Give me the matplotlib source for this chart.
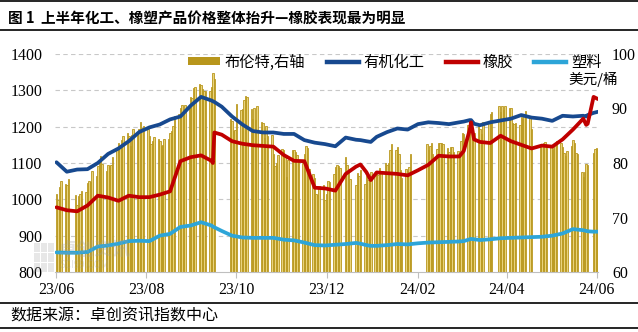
import matplotlib
matplotlib.use("Agg")
import matplotlib.pyplot as plt
from matplotlib.patches import Rectangle
from matplotlib.lines import Line2D
import numpy as np
import pandas as pd

plt.rcParams['font.family'] = ['Noto Sans CJK SC', 'DejaVu Sans']

# Days without a Brent quote in the series (China market holidays, ICE closures)
HOLIDAYS = ["2023-06-22", "2023-06-23", "2023-09-29", "2023-10-02", "2023-10-03",
            "2023-10-04", "2023-10-05", "2023-10-06", "2023-12-25", "2024-01-01",
            "2024-02-09", "2024-02-12", "2024-02-13", "2024-02-14", "2024-02-15",
            "2024-02-16", "2024-03-29", "2024-04-04", "2024-04-05", "2024-05-01",
            "2024-05-02", "2024-05-03", "2024-06-10"]

# Brent, USD/bbl (right axis), one value per trading day
brent_jun23 = [74.29, 73.20, 75.67, 76.61, 76.09, 75.90, 77.12, 74.18, 72.26, 74.03, 74.34, 74.90]
brent_jul23 = [74.65, 76.25, 76.65, 76.52, 78.47, 77.69, 79.40, 80.11, 81.36, 79.87, 78.50,
               79.63, 79.46, 79.64, 81.07, 82.74, 83.64, 82.92, 84.24, 84.99, 85.56]
brent_aug23 = [84.91, 83.20, 85.14, 86.24, 85.34, 86.17, 87.55, 86.40, 86.81, 86.21, 84.89, 83.45,
               84.12, 84.80, 84.46, 84.03, 83.21, 83.36, 84.48, 84.42, 85.49, 85.86, 86.83]
brent_sep23 = [88.55, 89.00, 90.04, 90.60, 89.92, 90.65, 90.64, 92.06, 91.88, 93.70,
               93.93, 94.43, 94.34, 93.53, 93.30, 93.27, 93.29, 93.96, 96.55, 95.38]
brent_oct23 = [88.15, 87.65, 85.82, 86.00, 90.89, 89.65, 89.90, 91.50, 92.38, 92.16,
               89.83, 88.07, 90.13, 87.93, 90.48, 87.45, 87.41]
brent_nov23 = [84.63, 86.85, 84.89, 85.18, 81.61, 79.54, 80.01, 81.43, 82.52, 82.47, 81.18,
               77.42, 80.61, 82.32, 82.45, 81.96, 81.42, 80.58, 79.98, 81.68, 83.10, 82.83]
brent_dec23 = [78.88, 78.03, 77.20, 74.30, 74.05, 75.84, 76.03, 73.24, 74.26, 76.61,
               76.55, 77.95, 79.23, 79.70, 79.39, 79.07, 81.07, 79.65, 78.39, 77.04]
brent_jan24 = [75.89, 78.25, 77.59, 78.76, 76.12, 77.59, 76.80, 77.41, 78.29, 78.15, 78.29,
               77.88, 79.10, 78.56, 80.06, 79.55, 80.04, 82.43, 83.55, 82.40, 82.87, 81.71]
brent_feb24 = [78.70, 77.33, 78.99, 78.59, 79.21, 81.63, 83.56, 82.34, 83.03, 83.67,
               81.62, 82.53, 83.65, 83.68, 83.62]
brent_mar24 = [83.55, 82.80, 82.04, 82.96, 83.00, 82.08, 82.21, 81.92, 84.03, 85.42,
               85.34, 86.89, 87.38, 85.95, 85.78, 85.43, 86.75, 86.25, 85.41, 87.48]
brent_apr24 = [87.42, 88.92, 89.35, 90.38, 89.42, 90.48, 89.74, 90.45, 90.10, 90.02,
               87.29, 87.11, 87.29, 87.00, 88.42, 88.02, 89.01, 89.50, 88.40, 86.33]
brent_may24 = [83.33, 83.16, 83.58, 83.88, 82.79, 83.36, 82.38, 82.75, 83.27, 83.98,
               83.71, 82.88, 81.90, 81.36, 82.12, 83.10, 84.22, 83.60, 81.86, 81.62]
brent_jun24 = [78.36, 77.52, 78.41, 79.87, 79.62, 81.92, 82.60, 82.75, 82.62]

brent = (brent_jun23 + brent_jul23 + brent_aug23 + brent_sep23 + brent_oct23 + brent_nov23
         + brent_dec23 + brent_jan24 + brent_feb24 + brent_mar24 + brent_apr24 + brent_may24
         + brent_jun24)

# Price indices (left axis)
line_dates = ["2023-06-13", "2023-06-20", "2023-06-27", "2023-07-04", "2023-07-11", "2023-07-18",
              "2023-07-25", "2023-08-01", "2023-08-08", "2023-08-15", "2023-08-22", "2023-08-29",
              "2023-09-05", "2023-09-12", "2023-09-19", "2023-09-26", "2023-09-27", "2023-09-28",
              "2023-10-03", "2023-10-10", "2023-10-17", "2023-10-24", "2023-10-31", "2023-11-07",
              "2023-11-14", "2023-11-21", "2023-11-28", "2023-12-05", "2023-12-12", "2023-12-19",
              "2023-12-26", "2024-01-02", "2024-01-05", "2024-01-09", "2024-01-12", "2024-01-16",
              "2024-01-23", "2024-01-30", "2024-02-06", "2024-02-13", "2024-02-20", "2024-02-27",
              "2024-03-05", "2024-03-12", "2024-03-15", "2024-03-19", "2024-03-20", "2024-03-22",
              "2024-03-26", "2024-04-02", "2024-04-09", "2024-04-16", "2024-04-23", "2024-04-30",
              "2024-05-07", "2024-05-14", "2024-05-21", "2024-05-28", "2024-06-04", "2024-06-06",
              "2024-06-07", "2024-06-11", "2024-06-14"]
organic = [1102, 1076, 1082, 1083, 1100, 1125, 1140, 1160, 1185, 1198, 1206, 1220,
           1228, 1258, 1282, 1272, 1270, 1268, 1255, 1228, 1206, 1188, 1184, 1184,
           1180, 1180, 1163, 1156, 1152, 1146, 1170, 1164, 1163, 1160, 1158, 1172,
           1185, 1195, 1192, 1207, 1212, 1210, 1207, 1212, 1214, 1218, 1218, 1208,
           1204, 1212, 1217, 1222, 1232, 1225, 1222, 1216, 1230, 1228, 1230, 1228,
           1232, 1238, 1241]
rubber = [978, 970, 967, 983, 1010, 1005, 996, 1010, 1006, 1006, 1013, 1022,
          1105, 1116, 1121, 1106, 1100, 1184, 1178, 1160, 1153, 1149, 1147, 1145,
          1122, 1106, 1105, 1032, 1030, 1024, 1070, 1090, 1096, 1075, 1053, 1074,
          1072, 1070, 1066, 1080, 1095, 1120, 1118, 1118, 1133, 1190, 1212, 1165,
          1158, 1155, 1175, 1160, 1150, 1140, 1148, 1145, 1165, 1192, 1222, 1205,
          1208, 1282, 1276]
plastic = [854, 853, 853, 855, 870, 873, 878, 885, 886, 885, 900, 905,
           924, 928, 937, 928, 925, 923, 913, 900, 895, 894, 894, 894,
           889, 887, 881, 874, 873, 875, 877, 880, 878, 874, 872, 872,
           874, 877, 876, 879, 881, 882, 883, 884, 885, 890, 891, 890,
           888, 890, 893, 894, 895, 896, 897, 900, 906, 918, 915, 913,
           912, 911, 911]

TICK_DATES = ["2023-06-13", "2023-08-13", "2023-10-13", "2023-12-13",
              "2024-02-13", "2024-04-13", "2024-06-13"]
TICK_LABELS = ["23/06", "23/08", "23/10", "23/12", "24/02", "24/04", "24/06"]
LEFT_TICKS = [800, 900, 1000, 1100, 1200, 1300, 1400]
RIGHT_TICKS = [60, 70, 80, 90, 100]

GOLD = "#B8961C"
GOLD_FILL = "#E9D37C"
NAVY = "#17498F"
RED = "#C00000"
SKY = "#2DA5D8"
NUM_FONT = "Liberation Serif"

W, H = 638, 332
days = pd.bdate_range("2023-06-13", "2024-06-14")
days = days[~days.isin(pd.to_datetime(HOLIDAYS))]
assert len(days) == len(brent), (len(days), len(brent))
ldates = pd.to_datetime(line_dates)

fig = plt.figure(figsize=(W / 100, H / 100), dpi=100)
ax_bar = fig.add_axes([55 / W, 1 - 272 / H, 543 / W, 218 / H])
ax_line = ax_bar.twinx()

# dashed grid at the left-axis ticks, drawn behind the bars
for v in LEFT_TICKS[1:]:
    r = RIGHT_TICKS[0] + (v - LEFT_TICKS[0]) * (RIGHT_TICKS[-1] - RIGHT_TICKS[0]) / (LEFT_TICKS[-1] - LEFT_TICKS[0])
    ax_bar.axhline(r, color="#C8C8C8", lw=0.8, dashes=(4, 3), zorder=0)

ax_bar.bar(days, brent, width=1.0, color=GOLD_FILL, edgecolor=GOLD, linewidth=0.6, zorder=2)

lw = 2.7
ax_line.plot(ldates, organic, color=NAVY, lw=lw, solid_joinstyle="round", solid_capstyle="round")
ax_line.plot(ldates, rubber, color=RED, lw=lw, solid_joinstyle="round", solid_capstyle="round")
ax_line.plot(ldates, plastic, color=SKY, lw=lw, solid_joinstyle="round", solid_capstyle="round")

ax_bar.set_xlim(pd.Timestamp("2023-06-12"), pd.Timestamp("2024-06-14"))
ax_bar.set_ylim(RIGHT_TICKS[0], RIGHT_TICKS[-1])
ax_line.set_ylim(LEFT_TICKS[0], LEFT_TICKS[-1])

ax_bar.set_xticks(pd.to_datetime(TICK_DATES))
ax_bar.set_xticklabels(TICK_LABELS, fontfamily=NUM_FONT, fontsize=11.5)
ax_bar.tick_params(axis="x", length=4, color="#BFBFBF", pad=3)

ax_bar.yaxis.tick_right()
ax_bar.set_yticks(RIGHT_TICKS)
ax_bar.set_yticklabels([str(t) for t in RIGHT_TICKS], fontfamily=NUM_FONT, fontsize=11.5)
ax_bar.tick_params(axis="y", length=0, pad=10)

ax_line.yaxis.tick_left()
ax_line.set_yticks(LEFT_TICKS)
ax_line.set_yticklabels([str(t) for t in LEFT_TICKS], fontfamily=NUM_FONT, fontsize=11.5)
ax_line.tick_params(axis="y", length=0, pad=9)

for ax in (ax_bar, ax_line):
    for side in ("left", "right", "top", "bottom"):
        ax.spines[side].set_visible(False)
ax_bar.spines["bottom"].set_visible(True)
ax_bar.spines["bottom"].set_color("#BFBFBF")

handles = [Rectangle((0, 0), 1, 1, facecolor=GOLD, edgecolor="none"),
           Line2D([], [], color=NAVY, lw=3.2),
           Line2D([], [], color=RED, lw=3.2),
           Line2D([], [], color=SKY, lw=3.2)]
labels = ["布伦特,右轴", "有机化工", "橡胶", "塑料"]
ax_line.legend(handles, labels, ncol=4, loc="center left",
               bbox_to_anchor=(188 / W, 1 - 62 / H), bbox_transform=fig.transFigure,
               frameon=False, fontsize=11, handlelength=2.1, handleheight=0.5,
               handletextpad=0.3, columnspacing=1.4, borderpad=0, borderaxespad=0)

fig.text(593 / W, 1 - 79.5 / H, "美元/桶", ha="center", va="center", fontsize=10.5)

# faint source watermark
for i in range(3):
    for j in range(3):
        fig.add_artist(Rectangle(((34 + i * 7) / W, 1 - (272 - j * 10) / H), 6 / W, 9 / H,
                                 transform=fig.transFigure, color="#A0A0A0", alpha=0.25, lw=0))
fig.text(58 / W, 1 - 249 / H, "卓创资讯", fontsize=13, color="#A0A0A0", alpha=0.3,
         va="center", weight="bold")
fig.text(60 / W, 1 - 265 / H, "SCI99.COM", fontsize=7, color="#A0A0A0", alpha=0.3, va="center")

# header / footer rules
for y in (1, 30, 303, 327.5):
    fig.add_artist(Line2D([0, 1], [1 - y / H, 1 - y / H], transform=fig.transFigure,
                          color="black", lw=1.2))

fig.text(8 / W, 1 - 18.5 / H, "图 1  上半年化工、橡塑产品价格整体抬升—橡胶表现最为明显",
         fontsize=10.5, weight="bold", va="center")
fig.text(10 / W, 1 - 316.5 / H, "数据来源：卓创资讯指数中心", fontsize=11.5, va="center")

fig.savefig("out.png", dpi=100)
